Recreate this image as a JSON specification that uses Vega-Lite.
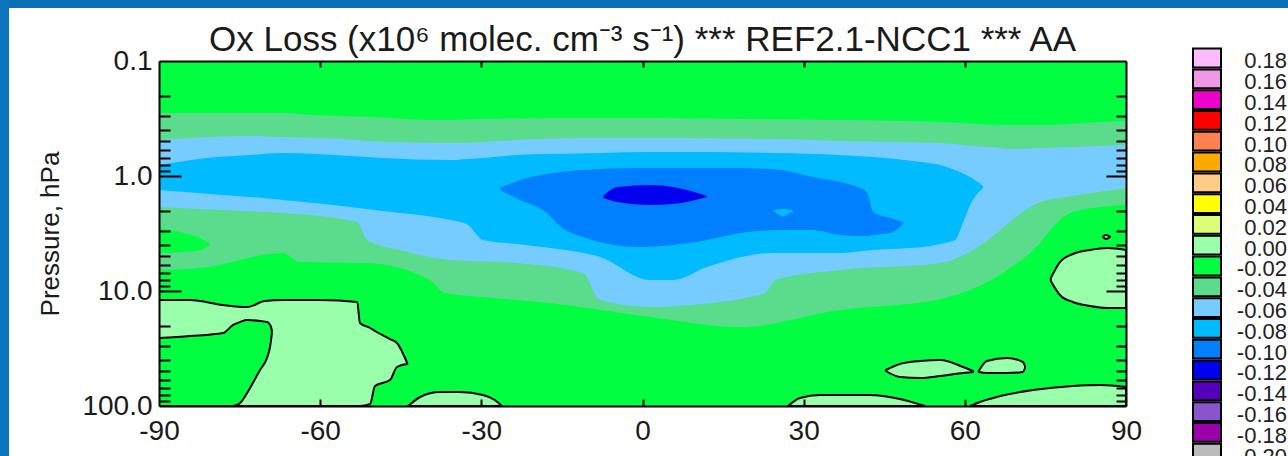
{
  "$schema": "https://vega.github.io/schema/vega-lite/v6.json",
  "width": 967,
  "height": 345,
  "autosize": {"type": "none"},
  "padding": {"left": 159, "top": 61, "right": 162, "bottom": 50},
  "background": "#ffffff",
  "config": {"view": {"stroke": null, "fill": "#00ff40"}, "font": "Liberation Sans"},
  "title": {"text": "Ox Loss (x10⁶ molec. cm⁻³ s⁻¹) *** REF2.1-NCC1 *** AA", "font": "Liberation Sans", "fontSize": 35, "fontWeight": "normal", "color": "#1a1a1a", "anchor": "middle", "frame": "group", "baseline": "alphabetic", "offset": -87},
  "data": {"values": [
    {"g":"A","c":"-0.04","lat":-90,"top":0.2833,"bot":6.568},
    {"g":"A","c":"-0.04","lat":-82.4,"top":0.2833,"bot":6.31},
    {"g":"A","c":"-0.04","lat":-66.9,"top":0.2833,"bot":4.673},
    {"g":"A","c":"-0.04","lat":-63.8,"top":0.29,"bot":5.596},
    {"g":"A","c":"-0.04","lat":-51.3,"top":0.306,"bot":5.709},
    {"g":"A","c":"-0.04","lat":-39.6,"top":0.3258,"bot":8.024},
    {"g":"A","c":"-0.04","lat":-36.8,"top":0.3258,"bot":10.41},
    {"g":"A","c":"-0.04","lat":-29.7,"top":0.3194,"bot":11.28},
    {"g":"A","c":"-0.04","lat":-17.2,"top":0.3131,"bot":12.72},
    {"g":"A","c":"-0.04","lat":1.4,"top":0.3131,"bot":16.83},
    {"g":"A","c":"-0.04","lat":18.2,"top":0.3194,"bot":20.56},
    {"g":"A","c":"-0.04","lat":36.8,"top":0.3258,"bot":14.63},
    {"g":"A","c":"-0.04","lat":55.4,"top":0.3392,"bot":11.74},
    {"g":"A","c":"-0.04","lat":67.9,"top":0.3602,"bot":6.568},
    {"g":"A","c":"-0.04","lat":74.0,"top":0.3602,"bot":3.825},
    {"g":"A","c":"-0.04","lat":75.9,"top":0.3602,"bot":2.949},
    {"g":"A","c":"-0.04","lat":79.6,"top":0.353,"bot":2.097},
    {"g":"A","c":"-0.04","lat":85.2,"top":0.3392,"bot":1.86},
    {"g":"A","c":"-0.04","lat":90,"top":0.3325,"bot":1.787},
    {"g":"A2","c":"-0.02","lat":-90,"top":2.833,"bot":4.673},
    {"g":"A2","c":"-0.02","lat":-86.1,"top":3.069,"bot":4.6},
    {"g":"A2","c":"-0.02","lat":-82.4,"top":3.46,"bot":4.4},
    {"g":"A2","c":"-0.02","lat":-80.5,"top":3.9,"bot":3.98},
    {"g":"B","c":"-0.06","lat":-90,"top":0.4864,"bot":1.86},
    {"g":"B","c":"-0.06","lat":-73.1,"top":0.449,"bot":2.03},
    {"g":"B","c":"-0.06","lat":-66.9,"top":0.4581,"bot":2.097},
    {"g":"B","c":"-0.06","lat":-53.1,"top":0.4864,"bot":2.512},
    {"g":"B","c":"-0.06","lat":-51.3,"top":0.496,"bot":3.602},
    {"g":"B","c":"-0.06","lat":-45.1,"top":0.5062,"bot":4.4},
    {"g":"B","c":"-0.06","lat":-35.8,"top":0.5164,"bot":5.377},
    {"g":"B","c":"-0.06","lat":-23.4,"top":0.4864,"bot":5.709},
    {"g":"B","c":"-0.06","lat":-11.1,"top":0.4673,"bot":6.974},
    {"g":"B","c":"-0.06","lat":-7.9,"top":0.4673,"bot":11.97},
    {"g":"B","c":"-0.06","lat":1.4,"top":0.4673,"bot":13.78},
    {"g":"B","c":"-0.06","lat":8.8,"top":0.4673,"bot":13.23},
    {"g":"B","c":"-0.06","lat":22.8,"top":0.4767,"bot":10.41},
    {"g":"B","c":"-0.06","lat":24.7,"top":0.4767,"bot":8.024},
    {"g":"B","c":"-0.06","lat":36.8,"top":0.496,"bot":6.568},
    {"g":"B","c":"-0.06","lat":55.4,"top":0.5164,"bot":5.709},
    {"g":"B","c":"-0.06","lat":61.5,"top":0.548,"bot":4.4},
    {"g":"B","c":"-0.06","lat":66.6,"top":0.5709,"bot":2.949},
    {"g":"B","c":"-0.06","lat":67.9,"top":0.5824,"bot":2.615},
    {"g":"B","c":"-0.06","lat":74.0,"top":0.5709,"bot":1.69},
    {"g":"B","c":"-0.06","lat":80.1,"top":0.5596,"bot":1.493},
    {"g":"B","c":"-0.06","lat":90,"top":0.5377,"bot":1.272},
    {"g":"C","c":"-0.08","lat":-90,"top":0.8024,"bot":1.323},
    {"g":"C","c":"-0.08","lat":-79.2,"top":0.6836,"bot":1.45},
    {"g":"C","c":"-0.08","lat":-73.1,"top":0.6568,"bot":1.523},
    {"g":"C","c":"-0.08","lat":-66.9,"top":0.631,"bot":1.617},
    {"g":"C","c":"-0.08","lat":-54.4,"top":0.67,"bot":1.86},
    {"g":"C","c":"-0.08","lat":-48.3,"top":0.6974,"bot":2.015},
    {"g":"C","c":"-0.08","lat":-35.8,"top":0.7261,"bot":2.414},
    {"g":"C","c":"-0.08","lat":-32.7,"top":0.71,"bot":2.615},
    {"g":"C","c":"-0.08","lat":-29.7,"top":0.6974,"bot":3.602},
    {"g":"C","c":"-0.08","lat":-23.4,"top":0.6568,"bot":3.903},
    {"g":"C","c":"-0.08","lat":-17.2,"top":0.644,"bot":4.228},
    {"g":"C","c":"-0.08","lat":-7.9,"top":0.631,"bot":5.062},
    {"g":"C","c":"-0.08","lat":1.4,"top":0.6185,"bot":8.024},
    {"g":"C","c":"-0.08","lat":5.7,"top":0.6185,"bot":8.024},
    {"g":"C","c":"-0.08","lat":12.0,"top":0.6185,"bot":6.185},
    {"g":"C","c":"-0.08","lat":24.3,"top":0.631,"bot":4.673},
    {"g":"C","c":"-0.08","lat":36.8,"top":0.6568,"bot":4.673},
    {"g":"C","c":"-0.08","lat":42.9,"top":0.6836,"bot":4.4},
    {"g":"C","c":"-0.08","lat":52.2,"top":0.76,"bot":4.144},
    {"g":"C","c":"-0.08","lat":55.4,"top":0.8024,"bot":3.903},
    {"g":"C","c":"-0.08","lat":58.2,"top":0.8867,"bot":3.602},
    {"g":"C","c":"-0.08","lat":59.5,"top":0.9417,"bot":2.668},
    {"g":"C","c":"-0.08","lat":61.0,"top":1.02,"bot":1.787},
    {"g":"C","c":"-0.08","lat":63.4,"top":1.222,"bot":1.272},
    {"g":"D","c":"-0.10","lat":-26.5,"top":1.272,"bot":1.323},
    {"g":"D","c":"-0.10","lat":-22.8,"top":1.083,"bot":1.617},
    {"g":"D","c":"-0.10","lat":-17.8,"top":0.96,"bot":2.097},
    {"g":"D","c":"-0.10","lat":-15.4,"top":0.923,"bot":2.72},
    {"g":"D","c":"-0.10","lat":-11.1,"top":0.8867,"bot":3.392},
    {"g":"D","c":"-0.10","lat":-0.5,"top":0.8518,"bot":4.144},
    {"g":"D","c":"-0.10","lat":12.0,"top":0.8518,"bot":3.602},
    {"g":"D","c":"-0.10","lat":18.2,"top":0.8518,"bot":3.131},
    {"g":"D","c":"-0.10","lat":25.6,"top":0.8867,"bot":2.949},
    {"g":"D","c":"-0.10","lat":31.7,"top":1.02,"bot":2.949},
    {"g":"D","c":"-0.10","lat":36.8,"top":1.128,"bot":3.258},
    {"g":"D","c":"-0.10","lat":40.5,"top":1.272,"bot":3.325},
    {"g":"D","c":"-0.10","lat":41.8,"top":1.378,"bot":3.325},
    {"g":"D","c":"-0.10","lat":42.9,"top":2.056,"bot":3.258},
    {"g":"D","c":"-0.10","lat":46.1,"top":2.319,"bot":3.131},
    {"g":"D","c":"-0.10","lat":48.5,"top":2.512,"bot":2.615},
    {"g":"D2","c":"-0.08","lat":24.3,"top":1.975,"bot":2.015},
    {"g":"D2","c":"-0.08","lat":26.2,"top":1.94,"bot":2.273},
    {"g":"D2","c":"-0.08","lat":28.0,"top":1.975,"bot":2.015},
    {"g":"E","c":"-0.12","lat":-7.3,"top":1.493,"bot":1.554},
    {"g":"E","c":"-0.12","lat":-4.7,"top":1.246,"bot":1.683},
    {"g":"E","c":"-0.12","lat":1.4,"top":1.197,"bot":1.787},
    {"g":"E","c":"-0.12","lat":5.7,"top":1.246,"bot":1.752},
    {"g":"E","c":"-0.12","lat":12.0,"top":1.493,"bot":1.523},
    {"g":"I1","c":"0.00","lat":-90,"top":11.97,"bot":100},
    {"g":"I1","c":"0.00","lat":-84.2,"top":11.97,"bot":100},
    {"g":"I1","c":"0.00","lat":-78.1,"top":13.23,"bot":100},
    {"g":"I1","c":"0.00","lat":-73.6,"top":13.78,"bot":100},
    {"g":"I1","c":"0.00","lat":-70.3,"top":12.22,"bot":100},
    {"g":"I1","c":"0.00","lat":-66.9,"top":11.97,"bot":100},
    {"g":"I1","c":"0.00","lat":-60.0,"top":11.97,"bot":100},
    {"g":"I1","c":"0.00","lat":-53.1,"top":12.46,"bot":100},
    {"g":"I1","c":"0.00","lat":-52.6,"top":18.98,"bot":100},
    {"g":"I1","c":"0.00","lat":-50.7,"top":20.98,"bot":96.07},
    {"g":"I1","c":"0.00","lat":-49.8,"top":22.27,"bot":66.99},
    {"g":"I1","c":"0.00","lat":-47.0,"top":26.15,"bot":59.42},
    {"g":"I1","c":"0.00","lat":-45.7,"top":28.33,"bot":45.81},
    {"g":"I1","c":"0.00","lat":-43.8,"top":42.28,"bot":43.13},
    {"g":"I2","c":"0.00","lat":-43.6,"top":100,"bot":100},
    {"g":"I2","c":"0.00","lat":-41.4,"top":83.5,"bot":100},
    {"g":"I2","c":"0.00","lat":-37.7,"top":75.55,"bot":100},
    {"g":"I2","c":"0.00","lat":-34.0,"top":75.55,"bot":100},
    {"g":"I2","c":"0.00","lat":-29.7,"top":80.24,"bot":100},
    {"g":"I2","c":"0.00","lat":-27.5,"top":88.67,"bot":100},
    {"g":"I2","c":"0.00","lat":-26.2,"top":100,"bot":100},
    {"g":"I3","c":"0.00","lat":27.1,"top":100,"bot":100},
    {"g":"I3","c":"0.00","lat":29.3,"top":85.18,"bot":100},
    {"g":"I3","c":"0.00","lat":33.0,"top":80.24,"bot":100},
    {"g":"I3","c":"0.00","lat":42.3,"top":80.24,"bot":100},
    {"g":"I3","c":"0.00","lat":47.9,"top":86.9,"bot":100},
    {"g":"I3","c":"0.00","lat":52.6,"top":100,"bot":100},
    {"g":"I4","c":"0.00","lat":61.0,"top":100,"bot":100},
    {"g":"I4","c":"0.00","lat":62.8,"top":92.3,"bot":100},
    {"g":"I4","c":"0.00","lat":66.6,"top":81.85,"bot":100},
    {"g":"I4","c":"0.00","lat":72.7,"top":72.61,"bot":100},
    {"g":"I4","c":"0.00","lat":80.1,"top":66.99,"bot":100},
    {"g":"I4","c":"0.00","lat":85.2,"top":65.68,"bot":100},
    {"g":"I4","c":"0.00","lat":90,"top":68.34,"bot":100},
    {"g":"I5","c":"0.00","lat":76.0,"top":7.709,"bot":8.185},
    {"g":"I5","c":"0.00","lat":77.7,"top":5.596,"bot":10.83},
    {"g":"I5","c":"0.00","lat":80.1,"top":4.767,"bot":12.46},
    {"g":"I5","c":"0.00","lat":83.3,"top":4.4,"bot":13.5},
    {"g":"I5","c":"0.00","lat":86.5,"top":4.228,"bot":14.05},
    {"g":"I5","c":"0.00","lat":90,"top":4.4,"bot":14.05},
    {"g":"I6","c":"0.00","lat":45.3,"top":48.64,"bot":49.62},
    {"g":"I6","c":"0.00","lat":47.9,"top":43.13,"bot":55.96},
    {"g":"I6","c":"0.00","lat":51.7,"top":40.62,"bot":57.09},
    {"g":"I6","c":"0.00","lat":55.4,"top":39.81,"bot":54.85},
    {"g":"I6","c":"0.00","lat":59.7,"top":45.81,"bot":51.64},
    {"g":"I6","c":"0.00","lat":61.5,"top":49.62,"bot":50.62},
    {"g":"I7","c":"0.00","lat":62.6,"top":49.62,"bot":50.62},
    {"g":"I7","c":"0.00","lat":64.1,"top":40.62,"bot":51.64},
    {"g":"I7","c":"0.00","lat":67.9,"top":38.25,"bot":51.64},
    {"g":"I7","c":"0.00","lat":70.8,"top":41.44,"bot":50.62},
    {"g":"I7","c":"0.00","lat":71.2,"top":44.9,"bot":46.73},
    {"g":"I8","c":"0.00","lat":85.7,"top":3.36,"bot":3.392},
    {"g":"I8","c":"0.00","lat":86.3,"top":3.258,"bot":3.53},
    {"g":"I8","c":"0.00","lat":87.0,"top":3.36,"bot":3.392},
    {"g":"H","c":"-0.02","lat":-90,"top":25.63,"bot":100},
    {"g":"H","c":"-0.02","lat":-84.2,"top":24.62,"bot":100},
    {"g":"H","c":"-0.02","lat":-78.1,"top":23.19,"bot":100},
    {"g":"H","c":"-0.02","lat":-76.2,"top":19.75,"bot":100},
    {"g":"H","c":"-0.02","lat":-74.9,"top":18.61,"bot":94.17},
    {"g":"H","c":"-0.02","lat":-73.6,"top":17.87,"bot":77.09},
    {"g":"H","c":"-0.02","lat":-71.2,"top":18.24,"bot":48.64},
    {"g":"H","c":"-0.02","lat":-69.9,"top":18.61,"bot":38.25},
    {"g":"H","c":"-0.02","lat":-69.3,"top":19.75,"bot":30.08},
    {"g":"H","c":"-0.02","lat":-69.0,"top":21.84,"bot":23.66}
  ]},
  "resolve": {"axis": {"x": "independent", "y": "independent"}},
  "layer": [
    {
      "data": {"values": [{}]},
      "mark": {"type": "rect", "clip": false, "color": "#0b6fb3"},
      "encoding": {
        "x": {"datum": -121, "type": "quantitative", "scale": {"domain": [-90, 90], "nice": false, "zero": false},
          "axis": {"orient": "bottom", "values": [-90, -60, -30, 0, 30, 60, 90], "labelExpr": "'' + datum.value", "ticks": false, "domain": false, "grid": false, "labelFontSize": 28, "labelPadding": 11, "labelColor": "#1a1a1a", "labelFlush": false, "labelOverlap": false, "title": null}},
        "x2": {"datum": 130},
        "y": {"datum": 0.029, "type": "quantitative", "scale": {"type": "log", "domain": [0.1, 100], "reverse": true, "nice": false},
          "axis": {"orient": "left", "values": [0.1, 1, 10, 100], "format": ".1f", "ticks": false, "domain": false, "grid": false, "labelFontSize": 28, "labelPadding": 7, "labelColor": "#1a1a1a", "labelOverlap": false, "labelFlush": false, "title": "Pressure, hPa", "titleFontSize": 26, "titleFontWeight": "normal", "titleColor": "#1a1a1a", "titleX": -109, "titleY": 172.5, "titleAngle": 270, "titleBaseline": "middle", "titleAlign": "center"}},
        "y2": {"datum": 0.0346}
      }
    },
    {
      "data": {"values": [{}]},
      "mark": {"type": "rect", "clip": false, "color": "#0b74bd"},
      "encoding": {
        "x": {"datum": -121, "type": "quantitative",
          "axis": {"orient": "top", "values": [-60, -30, 0, 30, 60], "labels": false, "ticks": true, "tickSize": -6, "tickWidth": 2, "tickColor": "#000", "domain": true, "domainColor": "#000", "domainWidth": 2, "grid": false, "title": null, "zindex": 1}},
        "x2": {"datum": -117.92},
        "y": {"datum": 0.029, "type": "quantitative",
          "axis": {"orient": "right", "values": [0.2, 0.3, 0.4, 0.5, 0.6, 0.7, 0.8, 0.9, 1, 2, 3, 4, 5, 6, 7, 8, 9, 10, 20, 30, 40, 50, 60, 70, 80, 90], "labels": false, "tickSize": {"condition": {"test": "datum.value == 1 || datum.value == 10", "value": -20}, "value": -10}, "tickWidth": 2, "tickColor": "#000", "domain": true, "domainColor": "#000", "domainWidth": 2, "grid": false, "title": null, "zindex": 1}},
        "y2": {"datum": 500}
      }
    },
    {
      "transform": [{"filter": "datum.g == 'A'"}],
      "mark": {"type": "area", "clip": true, "opacity": 1, "interpolate": "monotone"},
      "encoding": {
        "x": {"field": "lat", "type": "quantitative",
          "axis": {"orient": "bottom", "values": [-60, -30, 0, 30, 60], "labels": false, "ticks": true, "tickSize": -7, "tickWidth": 2, "tickColor": "#000", "domain": true, "domainColor": "#000", "domainWidth": 2, "grid": false, "title": null, "zindex": 1}},
        "y": {"field": "top", "type": "quantitative", "stack": null,
          "axis": {"orient": "left", "values": [0.2, 0.3, 0.4, 0.5, 0.6, 0.7, 0.8, 0.9, 1, 2, 3, 4, 5, 6, 7, 8, 9, 10, 20, 30, 40, 50, 60, 70, 80, 90], "labels": false, "tickSize": {"condition": {"test": "datum.value == 1 || datum.value == 10", "value": -22}, "value": -11}, "tickWidth": 2, "tickColor": "#000", "domain": true, "domainColor": "#000", "domainWidth": 2, "grid": false, "title": null, "zindex": 1}},
        "y2": {"field": "bot"},
        "color": {"field": "c", "type": "nominal",
          "scale": {"domain": ["0.18", "0.16", "0.14", "0.12", "0.10", "0.08", "0.06", "0.04", "0.02", "0.00", "-0.02", "-0.04", "-0.06", "-0.08", "-0.10", "-0.12", "-0.14", "-0.16", "-0.18", "-0.20"],
            "range": ["#ffbbff", "#ee99e6", "#ee00cc", "#ff0000", "#ff8050", "#ffaa00", "#ffcc88", "#ffff00", "#ddff77", "#99ffaa", "#00ff40", "#5adc8c", "#77ccff", "#00bbff", "#0080ff", "#0000ee", "#5500bb", "#8855cc", "#9900aa", "#bbbbbb"]},
          "legend": {"orient": "none", "legendX": 1037, "legendY": -3.6, "direction": "vertical", "title": null, "symbolType": "M-1.4,-1.98L1.4,-1.98L1.4,-0.1L-1.4,-0.1Z", "symbolSize": 400, "symbolStrokeColor": "#000", "symbolStrokeWidth": 2, "symbolOpacity": 1, "labelFontSize": 22, "labelAlign": "right", "labelBaseline": "alphabetic", "labelOffset": 69, "labelColor": "#222", "rowPadding": -7.2, "padding": 0, "labelOverlap": false}}
      }
    },
    {
      "transform": [{"filter": "datum.g == 'A2'"}],
      "mark": {"type": "area", "clip": true, "opacity": 1, "interpolate": "monotone"},
      "encoding": {
        "x": {"field": "lat", "type": "quantitative", "axis": null},
        "y": {"field": "top", "type": "quantitative", "stack": null, "axis": null},
        "y2": {"field": "bot"},
        "color": {"field": "c", "type": "nominal"}
      }
    },
    {
      "transform": [{"filter": "datum.g == 'B'"}],
      "mark": {"type": "area", "clip": true, "opacity": 1, "interpolate": "monotone"},
      "encoding": {
        "x": {"field": "lat", "type": "quantitative", "axis": null},
        "y": {"field": "top", "type": "quantitative", "stack": null, "axis": null},
        "y2": {"field": "bot"},
        "color": {"field": "c", "type": "nominal"}
      }
    },
    {
      "transform": [{"filter": "datum.g == 'C'"}],
      "mark": {"type": "area", "clip": true, "opacity": 1, "interpolate": "monotone"},
      "encoding": {
        "x": {"field": "lat", "type": "quantitative", "axis": null},
        "y": {"field": "top", "type": "quantitative", "stack": null, "axis": null},
        "y2": {"field": "bot"},
        "color": {"field": "c", "type": "nominal"}
      }
    },
    {
      "transform": [{"filter": "datum.g == 'D'"}],
      "mark": {"type": "area", "clip": true, "opacity": 1, "interpolate": "monotone"},
      "encoding": {
        "x": {"field": "lat", "type": "quantitative", "axis": null},
        "y": {"field": "top", "type": "quantitative", "stack": null, "axis": null},
        "y2": {"field": "bot"},
        "color": {"field": "c", "type": "nominal"}
      }
    },
    {
      "transform": [{"filter": "datum.g == 'D2'"}],
      "mark": {"type": "area", "clip": true, "opacity": 1, "interpolate": "linear"},
      "encoding": {
        "x": {"field": "lat", "type": "quantitative", "axis": null},
        "y": {"field": "top", "type": "quantitative", "stack": null, "axis": null},
        "y2": {"field": "bot"},
        "color": {"field": "c", "type": "nominal"}
      }
    },
    {
      "transform": [{"filter": "datum.g == 'E'"}],
      "mark": {"type": "area", "clip": true, "opacity": 1, "interpolate": "monotone"},
      "encoding": {
        "x": {"field": "lat", "type": "quantitative", "axis": null},
        "y": {"field": "top", "type": "quantitative", "stack": null, "axis": null},
        "y2": {"field": "bot"},
        "color": {"field": "c", "type": "nominal"}
      }
    },
    {
      "transform": [{"filter": "indexof(datum.g, 'I') == 0"}],
      "mark": {"type": "area", "clip": true, "opacity": 1, "interpolate": "monotone", "stroke": "#000", "strokeWidth": 2},
      "encoding": {
        "x": {"field": "lat", "type": "quantitative", "axis": null},
        "y": {"field": "top", "type": "quantitative", "stack": null, "axis": null},
        "y2": {"field": "bot"},
        "color": {"field": "c", "type": "nominal"},
        "detail": {"field": "g"}
      }
    },
    {
      "transform": [{"filter": "datum.g == 'H'"}],
      "mark": {"type": "area", "clip": true, "opacity": 1, "interpolate": "monotone", "stroke": "#000", "strokeWidth": 2},
      "encoding": {
        "x": {"field": "lat", "type": "quantitative", "axis": null},
        "y": {"field": "top", "type": "quantitative", "stack": null, "axis": null},
        "y2": {"field": "bot"},
        "color": {"field": "c", "type": "nominal"}
      }
    }
  ]
}
